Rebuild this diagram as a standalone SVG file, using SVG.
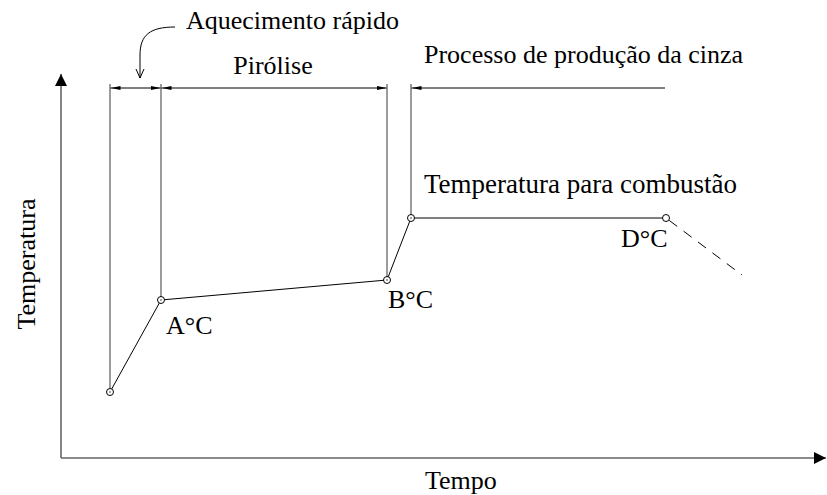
<svg xmlns="http://www.w3.org/2000/svg" width="827" height="495" viewBox="0 0 827 495">
<style>
.axis{stroke:#666;stroke-width:1.6;fill:none}
.ext{stroke:#666;stroke-width:1.3;fill:none}
.dim{stroke:#000;stroke-width:1;fill:none}
.data{stroke:#000;stroke-width:1;fill:none}
.pt{fill:#fff;stroke:#000;stroke-width:1}
</style>
<defs>
<marker id="dimA" viewBox="0 0 10 6" refX="10" refY="3" markerWidth="10" markerHeight="6" markerUnits="userSpaceOnUse" orient="auto-start-reverse">
<path d="M0,1 L10,3 L0,5 Z" fill="#000"/>
</marker>
<marker id="axA" viewBox="0 0 12 12" refX="12" refY="6" markerWidth="12" markerHeight="12" markerUnits="userSpaceOnUse" orient="auto">
<path d="M0,0 L12,6 L0,12 Z" fill="#000"/>
</marker>
<marker id="openA" viewBox="0 0 10 10" refX="5" refY="9" markerWidth="10" markerHeight="10" markerUnits="userSpaceOnUse" orient="0">
<path d="M1,0 L5,9 L9,0" fill="none" stroke="#000" stroke-width="1"/>
</marker>
</defs>
<g id="axes">
<line class="axis" x1="61" y1="458" x2="61" y2="74" marker-end="url(#axA)"/>
<line class="axis" x1="61" y1="458" x2="826" y2="458" marker-end="url(#axA)"/>
</g>
<g id="connectors">
<line class="ext" x1="110" y1="84" x2="110" y2="392"/>
<line class="ext" x1="161" y1="84" x2="161" y2="300"/>
<line class="ext" x1="387" y1="84" x2="387" y2="280"/>
<line class="ext" x1="411" y1="84" x2="411" y2="218"/>
<line class="dim" x1="110.5" y1="88" x2="160.5" y2="88" marker-start="url(#dimA)" marker-end="url(#dimA)"/>
<line class="dim" x1="161.5" y1="88" x2="386.5" y2="88" marker-start="url(#dimA)" marker-end="url(#dimA)"/>
<line class="dim" x1="665" y1="88" x2="411.5" y2="88" marker-end="url(#dimA)"/>
<path class="dim" d="M175,27 C150,27 140,35 140,55 L140,78" marker-end="url(#openA)"/>
<polyline class="data" points="110,392 161,300 387,280 411,218 666,218"/>
<line class="data" x1="666" y1="218" x2="742" y2="275" stroke-dasharray="10,8" stroke-dashoffset="-4"/>
</g>
<g id="points">
<g id="pt0"><circle class="pt" cx="110" cy="392" r="3.5"/><circle cx="110" cy="392" r="0.7"/></g>
<g id="ptA"><circle class="pt" cx="161" cy="300" r="3.5"/><circle cx="161" cy="300" r="0.7"/></g>
<g id="ptB"><circle class="pt" cx="387" cy="280" r="3.5"/><circle cx="387" cy="280" r="0.7"/></g>
<g id="ptC"><circle class="pt" cx="411" cy="218" r="3.5"/><circle cx="411" cy="218" r="0.7"/></g>
<g id="ptD"><circle class="pt" cx="666" cy="218" r="3.5"/></g>
</g>
<g id="labels" font-family="'Liberation Serif', 'Times New Roman', serif" font-size="26" fill="#000">
<text x="186" y="29">Aquecimento rápido</text>
<text x="273" y="74" text-anchor="middle">Pirólise</text>
<text x="424" y="63">Processo de produção da cinza</text>
<text x="424" y="193" font-size="27">Temperatura para combustão</text>
<text x="166" y="334">A°C</text>
<text x="388" y="308">B°C</text>
<text x="621" y="247">D°C</text>
<text x="425" y="489">Tempo</text>
<text transform="translate(35,264) rotate(-90)" text-anchor="middle">Temperatura</text>
</g>
</svg>
